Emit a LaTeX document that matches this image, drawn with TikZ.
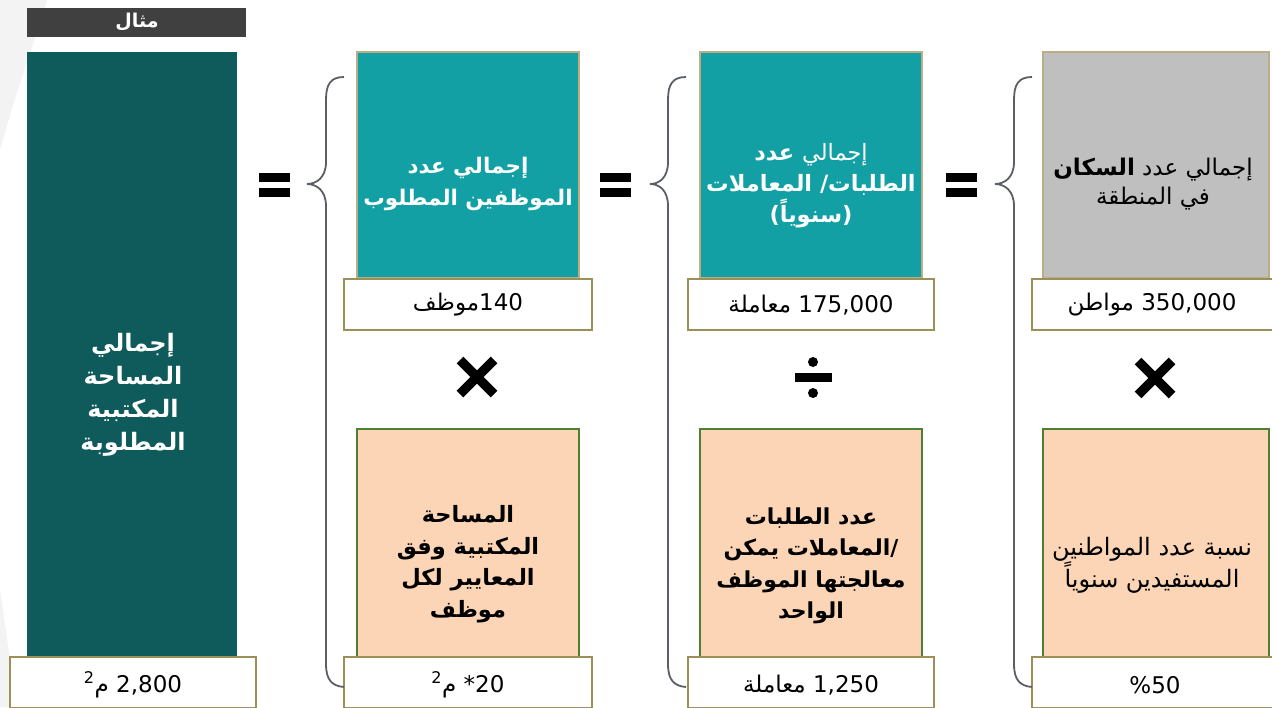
\documentclass[tikz,border=0pt]{standalone}
\usepackage{fontspec}
\setmainfont{DejaVu Sans}
\newfontfamily\ar[Script=Arabic]{DejaVu Sans}
\TeXXeTstate=1
\newcommand\RL[1]{\beginR #1\endR}
\newcommand\LRr[1]{\beginL #1\endL}
\definecolor{darkteal}{HTML}{0F5A5B}
\definecolor{tealc}{HTML}{13A0A4}
\definecolor{peach}{HTML}{FBD5B5}
\definecolor{grayc}{HTML}{BFBFBF}
\definecolor{tanb}{HTML}{BBAE85}
\definecolor{oliveb}{HTML}{9C8F58}
\definecolor{greenb}{HTML}{4F7F31}
\definecolor{bracec}{HTML}{5A5F66}
\definecolor{titleg}{HTML}{404040}
\definecolor{bgg}{HTML}{F3F3F3}
\begin{document}
\begin{tikzpicture}[x=1pt,y=-1pt,
  every node/.style={inner sep=0pt,outer sep=0pt},
  topbox/.style={draw=tanb,line width=1.3pt,minimum width=222pt,minimum height=226pt,anchor=north west},
  peachbox/.style={draw=greenb,line width=1.6pt,fill=peach,minimum width=222pt,minimum height=232pt,anchor=north west},
  labelbox/.style={draw=oliveb,line width=1.6pt,fill=white,minimum width=248pt,minimum height=51pt,anchor=north west},
  boldtxt/.style={align=center,font=\ar\fontsize{22.5}{32}\selectfont\bfseries},
  regtxt/.style={align=center,font=\ar\fontsize{23}{29}\selectfont},
  labtxt/.style={font=\ar\fontsize{23}{26}\selectfont},
  bracestyle/.style={draw=bracec,line width=1.8pt}]
\useasboundingbox (0,0) rectangle (1272,707);
\clip (0,0) rectangle (1272,707);
% faint background
\fill[bgg] (0,0) -- (47,0) .. controls (35,40) and (15,95) .. (0,150) -- cycle;
\fill[bgg] (0,590) .. controls (6,630) and (12,675) .. (17,707) -- (0,707) -- cycle;

% title
\node[fill=titleg,minimum width=219pt,minimum height=29pt,anchor=north west] (title) at (27,8) {};
\node[font=\ar\fontsize{19}{22}\selectfont\bfseries,text=white] (titletxt) at (137,22) {\RL{مثال}};

% big dark box
\node[fill=darkteal,minimum width=210pt,minimum height=620pt,anchor=north west] (big) at (27,52) {};
\node[boldtxt,text=white,font=\ar\fontsize{24}{33}\selectfont\bfseries] (bigtxt) at (133,395) {\RL{إجمالي}\\\RL{المساحة}\\\RL{المكتبية}\\\RL{المطلوبة}};
\node[labelbox,minimum width=246pt] (biglab) at (10,657) {};
\node[labtxt] (biglabtxt) at (133,685) {\RL{\LRr{2,800} م\textsuperscript{2}}};

% column 2
\node[topbox,fill=tealc] (c2top) at (357,52) {};
\node[boldtxt,text=white,font=\ar\fontsize{21.5}{32}\selectfont\bfseries] (c2toptxt) at (468,184) {\RL{إجمالي عدد}\\\RL{الموظفين المطلوب}};
\node[labelbox] (c2lab) at (344,279) {};
\node[labtxt] (c2labtxt) at (468,305) {\RL{\LRr{140}موظف}};
\node[peachbox] (c2bot) at (357,429) {};
\node[boldtxt,text=black,font=\ar\fontsize{22.5}{31.5}\selectfont\bfseries] (c2bottxt) at (468,564) {\RL{المساحة}\\\RL{المكتبية وفق}\\\RL{المعايير لكل}\\\RL{موظف}};
\node[labelbox] (c2lab2) at (344,657) {};
\node[labtxt] (c2lab2txt) at (468,685) {\RL{\LRr{20}* م\textsuperscript{2}}};

% column 3
\node[topbox,fill=tealc] (c3top) at (700,52) {};
\node[boldtxt,text=white,font=\ar\fontsize{22.5}{31}\selectfont\bfseries] (c3toptxt) at (811,186) {\RL{{\mdseries إجمالي} عدد}\\\RL{الطلبات/ المعاملات}\\\RL{(سنوياً)}};
\node[labelbox,minimum width=246pt] (c3lab) at (688,279) {};
\node[labtxt] (c3labtxt) at (811,305) {\RL{\LRr{175,000} معاملة}};
\node[peachbox] (c3bot) at (700,429) {};
\node[boldtxt,text=black,font=\ar\fontsize{22}{31.5}\selectfont\bfseries] (c3bottxt) at (811,566) {\RL{عدد الطلبات}\\\RL{/المعاملات يمكن}\\\RL{معالجتها الموظف}\\\RL{الواحد}};
\node[labelbox,minimum width=246pt] (c3lab2) at (688,657) {};
\node[labtxt] (c3lab2txt) at (811,685) {\RL{\LRr{1,250} معاملة}};

% column 4
\node[topbox,fill=grayc,minimum width=226pt] (c4top) at (1043,52) {};
\node[regtxt,text=black] (c4toptxt) at (1153,184) {\RL{إجمالي عدد \textbf{السكان}}\\\RL{في المنطقة}};
\node[labelbox,minimum width=250pt] (c4lab) at (1032,279) {};
\node[labtxt] (c4labtxt) at (1152,305) {\RL{\LRr{350,000} مواطن}};
\node[peachbox,minimum width=226pt] (c4bot) at (1043,429) {};
\node[regtxt,text=black,font=\ar\fontsize{24}{30}\selectfont] (c4bottxt) at (1152,565) {\RL{نسبة عدد المواطنين}\\\RL{المستفيدين سنوياً}};
\node[labelbox,minimum width=250pt] (c4lab2) at (1032,657) {};
\node[labtxt] (c4lab2txt) at (1155,685) {\RL{\LRr{50}\%}};

% equals signs
\foreach \ex in {259,600,946}{
  \fill (\ex,173) rectangle ++(31,9);
  \fill (\ex,188) rectangle ++(31,9);
}
% braces
\foreach \bx/\tx in {326/307,668/650,1014/995}{
  \draw[bracestyle] (\bx+18,77) .. controls (\bx+4,77) and (\bx,85) .. (\bx,100) -- (\bx,162)
     .. controls (\bx,178) and (\tx+9,184) .. (\tx,184)
     .. controls (\tx+9,184) and (\bx,190) .. (\bx,206) -- (\bx,664)
     .. controls (\bx,680) and (\bx+6,686) .. (\bx+18,687);
}
% operators
\draw[line width=9.5pt] (460,360) -- (494,394) (460,394) -- (494,360);
\draw[line width=9.5pt] (1138,361) -- (1172,395) (1138,395) -- (1172,361);
\fill (795,373) rectangle (832,382);
\fill (813,362) circle (5);
\fill (813,393) circle (5);
\end{tikzpicture}
\end{document}
